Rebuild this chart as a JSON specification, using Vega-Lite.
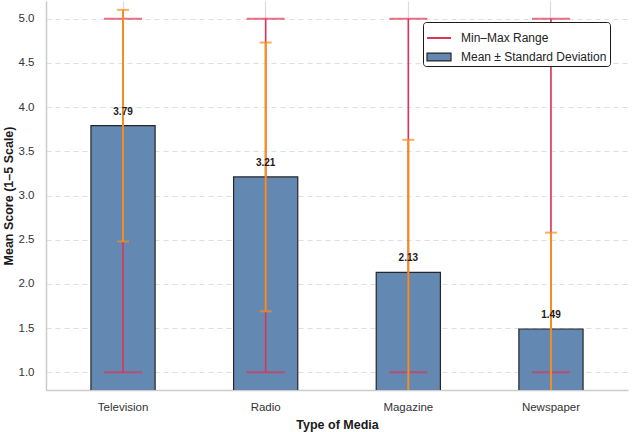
{
  "$schema": "https://vega.github.io/schema/vega-lite/v6.json",
  "width": 582,
  "height": 389,
  "autosize": {"type": "none"},
  "padding": {"left": 46, "top": 1, "right": 5, "bottom": 42},
  "background": "white",
  "config": {
    "view": {"stroke": null},
    "font": "Liberation Sans",
    "axis": {
      "domainColor": "#cccccc",
      "domainWidth": 1.5,
      "ticks": false,
      "labelFont": "Liberation Sans",
      "labelColor": "#333333",
      "titleFont": "Liberation Sans",
      "titleColor": "#1a1a1a",
      "titleFontWeight": "bold",
      "titleFontSize": 12.5
    }
  },
  "data": {
    "values": [
      {"media": "Television", "mean": 3.79, "lo": 2.48, "hi": 5.10, "min": 1, "max": 5},
      {"media": "Radio", "mean": 3.21, "lo": 1.69, "hi": 4.73, "min": 1, "max": 5},
      {"media": "Magazine", "mean": 2.13, "lo": 0.63, "hi": 3.63, "min": 1, "max": 5},
      {"media": "Newspaper", "mean": 1.49, "lo": 0.40, "hi": 2.58, "min": 1, "max": 5}
    ]
  },
  "encoding": {
    "x": {
      "field": "media",
      "type": "nominal",
      "sort": null,
      "scale": {"paddingInner": 0.55, "paddingOuter": 0.315},
      "axis": {
        "title": "Type of Media",
        "labelAngle": 0,
        "labelFontSize": 11.5,
        "labelPadding": 11,
        "titlePadding": 6,
        "grid": true,
        "gridColor": "#dcdcdc",
        "gridWidth": 1.2
      }
    }
  },
  "layer": [
    {
      "mark": {"type": "bar", "clip": true, "stroke": "#262626", "strokeWidth": 1.2, "fillOpacity": 1},
      "encoding": {
        "y": {
          "field": "mean",
          "type": "quantitative",
          "scale": {"domain": [0.8, 5.2], "nice": false, "zero": false},
          "axis": {
            "title": "Mean Score (1–5 Scale)",
            "values": [1, 1.5, 2, 2.5, 3, 3.5, 4, 4.5, 5],
            "format": ".1f",
            "labelFontSize": 11.5,
            "labelPadding": 12,
            "titlePadding": 3,
            "grid": true,
            "gridColor": "#dedede",
            "gridDash": [5, 4],
            "gridWidth": 1
          }
        },
        "y2": {"datum": 0},
        "fill": {
          "datum": "Mean ± Standard Deviation",
          "type": "nominal",
          "scale": {"domain": ["Mean ± Standard Deviation"], "range": ["#6389b2"]},
          "legend": {
            "orient": "none",
            "legendX": 377,
            "legendY": 40,
            "zindex": 5,
            "title": null,
            "padding": 3,
            "symbolType": "M-1,-0.33H1V0.33H-1Z",
            "symbolSize": 576,
            "symbolStrokeWidth": 1.2,
            "symbolStrokeColor": "#262626",
            "labelExpr": "''",
            "labelFontSize": 12,
            "labelOffset": 9
          }
        }
      }
    },
    {
      "mark": {"type": "rule", "strokeWidth": 1.6, "clip": true},
      "encoding": {
        "y": {"field": "min", "type": "quantitative"},
        "y2": {"field": "max"},
        "stroke": {
          "datum": "Min–Max Range",
          "type": "nominal",
          "scale": {
            "domain": ["Min–Max Range", "Mean ± Standard Deviation"],
            "range": ["#dc3454", "transparent"]
          },
          "legend": {
            "orient": "none",
            "legendX": 377,
            "legendY": 21,
            "zindex": 1,
            "title": null,
            "strokeColor": "#1a1a1a",
            "fillColor": "white",
            "padding": 3,
            "cornerRadius": 3,
            "symbolType": "stroke",
            "symbolSize": 576,
            "symbolStrokeWidth": 2,
            "labelFontSize": 12,
            "labelFont": "Liberation Sans",
            "labelColor": "#222222",
            "labelOffset": 9,
            "rowPadding": 0
          }
        }
      }
    },
    {
      "mark": {"type": "tick", "orient": "horizontal", "color": "#dc3454", "size": 38, "thickness": 2, "clip": true},
      "encoding": {"y": {"field": "min", "type": "quantitative"}}
    },
    {
      "mark": {"type": "tick", "orient": "horizontal", "color": "#dc3454", "size": 38, "thickness": 2, "clip": true},
      "encoding": {"y": {"field": "max", "type": "quantitative"}}
    },
    {
      "mark": {"type": "rule", "color": "#f58d1f", "strokeWidth": 2, "clip": true},
      "encoding": {
        "y": {"field": "lo", "type": "quantitative"},
        "y2": {"field": "hi"}
      }
    },
    {
      "mark": {"type": "tick", "orient": "horizontal", "color": "#f58d1f", "size": 12, "thickness": 2, "clip": true},
      "encoding": {"y": {"field": "lo", "type": "quantitative"}}
    },
    {
      "mark": {"type": "tick", "orient": "horizontal", "color": "#f58d1f", "size": 12, "thickness": 2, "clip": true},
      "encoding": {"y": {"field": "hi", "type": "quantitative"}}
    },
    {
      "mark": {"type": "text", "fontWeight": "bold", "fontSize": 10, "color": "#1a1a1a", "baseline": "bottom", "dy": -9},
      "encoding": {
        "y": {"field": "mean", "type": "quantitative"},
        "text": {"field": "mean", "type": "quantitative", "format": ".2f"}
      }
    }
  ]
}
